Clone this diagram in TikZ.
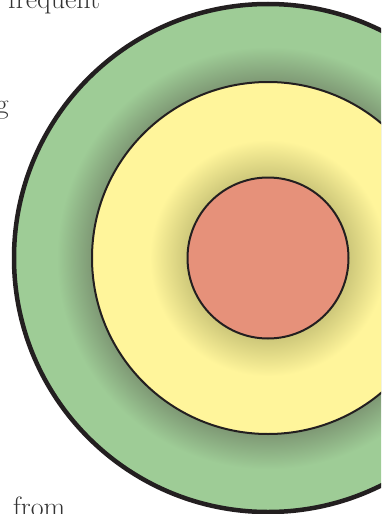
\documentclass[tikz,border=0pt]{standalone}
\usepackage{fontspec}
\definecolor{ringline}{RGB}{35,31,32}
\definecolor{greenlight}{RGB}{158,204,150}
\definecolor{greendark}{RGB}{126,152,116}
\definecolor{yellowlight}{RGB}{255,245,155}
\definecolor{yellowdark}{RGB}{206,200,122}
\definecolor{corered}{RGB}{230,145,122}
\pgfdeclareradialshading{greenring}{\pgfpoint{0bp}{0bp}}{color(0bp)=(greendark); color(17.3bp)=(greendark); color(20.8bp)=(greenlight); color(100bp)=(greenlight)}
\pgfdeclareradialshading{yellowring}{\pgfpoint{0bp}{0bp}}{color(0bp)=(yellowdark); color(11.5bp)=(yellowdark); color(16.8bp)=(yellowlight); color(100bp)=(yellowlight)}
\begin{document}
\begin{tikzpicture}[x=1pt, y=-1pt,
          ring/.style={circle, draw=ringline, inner sep=0pt},
          word/.style={inner sep=0pt, text=black!80, font=\fontsize{28}{30}\selectfont}]
        \path[use as bounding box] (0,0) rectangle (381,514);
        \clip (0,0) rectangle (381,514);
        \node[ring, line width=4.5pt, shading=greenring, minimum size=508pt] (outer) at (268,258) {};
        \node[ring, line width=2pt, shading=yellowring, minimum size=352pt] (middle) at (outer.center) {};
        \node[ring, line width=2pt, fill=corered, minimum size=161pt] (core) at (middle.center) {};
        \node[word, anchor=base west] (freq) at (8,9) {frequent};
        \node[word, anchor=base east] (cutg) at (9,113) {g};
        \node[word, anchor=base west] (from) at (13,516) {from};
      \end{tikzpicture}
\end{document}
